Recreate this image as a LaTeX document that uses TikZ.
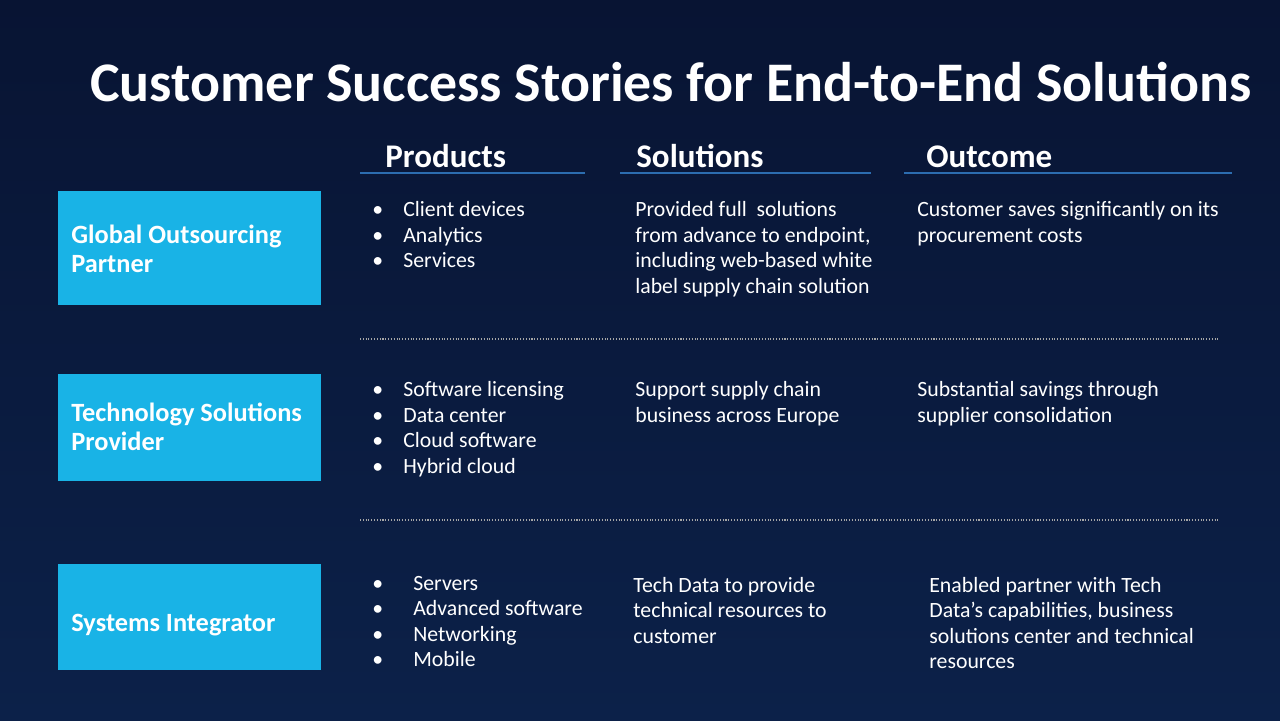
\documentclass[tikz,border=0pt]{standalone}
\usepackage{fontspec}
\setmainfont{Carlito}
\definecolor{bgtop}{HTML}{081433}
\definecolor{bgbot}{HTML}{0C2149}
\definecolor{boxcyan}{HTML}{19B3E6}
\definecolor{rulecol}{HTML}{2C6DB0}
\begin{document}
\begin{tikzpicture}[x=0.02cm,y=-0.02cm,
  rowbox/.style={fill=boxcyan,draw=none},
  boxtxt/.style={anchor=base west,text=white,font=\fontsize{15pt}{18pt}\selectfont\bfseries},
  head/.style={anchor=base west,text=white,font=\fontsize{18.8pt}{22pt}\selectfont\bfseries},
  body/.style={anchor=base west,text=white,font=\fontsize{12.4pt}{14pt}\selectfont,inner sep=0pt},
  sep/.style={draw=gray!70,densely dotted,line width=0.6pt}]
\shade[top color=bgtop,bottom color=bgbot] (0,0) rectangle (1280,720);
\useasboundingbox (0,0) rectangle (1280,720);
\node[anchor=base west,text=white,font=\fontsize{31.8pt}{34pt}\selectfont\bfseries,inner sep=0pt] (title) at (90,101) {Customer Success Stories for End-to-End Solutions};
% column heads
\node[head,inner sep=0pt] (hprod) at (385,167) {Products};
\node[head,inner sep=0pt] (hsol) at (636,167) {Solutions};
\node[head,inner sep=0pt] (hout) at (926,167) {Outcome};
\draw[rulecol,line width=1pt] (360,173) -- (585,173) (620,173) -- (871,173) (904,173) -- (1232,173);
% rows
\draw[rowbox] (58,191) rectangle (321,305);
\draw[rowbox] (58,374) rectangle (321,481);
\draw[rowbox] (58,564) rectangle (321,670);
\node[boxtxt,inner sep=0pt] (b1a) at (71,243) {Global Outsourcing};
\node[boxtxt,inner sep=0pt] (b1b) at (71,272) {Partner};
\node[boxtxt,inner sep=0pt] (b2a) at (71,421) {Technology Solutions};
\node[boxtxt,inner sep=0pt] (b2b) at (71,450) {Provider};
\node[boxtxt,inner sep=0pt] (b3) at (71,631) {Systems Integrator};
\draw[sep] (360,339) -- (1218,339);
\draw[sep] (360,520) -- (1218,520);
% products
\foreach \t [count=\i] in {Client devices,Analytics,Services}
  {\node[body] at (372,191+25.5*\i) {\textbullet}; \node[body] (p1\i) at (403,191+25.5*\i) {\t};}
\foreach \t [count=\i] in {Software licensing,Data center,Cloud software,Hybrid cloud}
  {\node[body] at (372,371+25.5*\i) {\textbullet}; \node[body] (p2\i) at (403,371+25.5*\i) {\t};}
\foreach \t [count=\i] in {Servers,Advanced software,Networking,Mobile}
  {\node[body] at (372,564.5+25.5*\i) {\textbullet}; \node[body] (p3\i) at (413,564.5+25.5*\i) {\t};}
% solutions
\foreach \t [count=\i] in {Provided full\ \ solutions,{from advance to endpoint,},including web-based white,label supply chain solution}
  {\node[body] (s1\i) at (635,191+25.5*\i) {\t};}
\foreach \t [count=\i] in {Support supply chain,business across Europe}
  {\node[body] (s2\i) at (635,371+25.5*\i) {\t};}
\foreach \t [count=\i] in {Tech Data to provide,technical resources to,customer}
  {\node[body] (s3\i) at (633,566.5+25.5*\i) {\t};}
% outcome
\foreach \t [count=\i] in {Customer saves significantly on its,procurement costs}
  {\node[body] (o1\i) at (917,191+25.5*\i) {\t};}
\foreach \t [count=\i] in {Substantial savings through,supplier consolidation}
  {\node[body] (o2\i) at (917,371+25.5*\i) {\t};}
\foreach \t [count=\i] in {Enabled partner with Tech,{Data’s capabilities, business},solutions center and technical,resources}
  {\node[body] (o3\i) at (929,566.5+25.5*\i) {\t};}
\end{tikzpicture}
\end{document}
